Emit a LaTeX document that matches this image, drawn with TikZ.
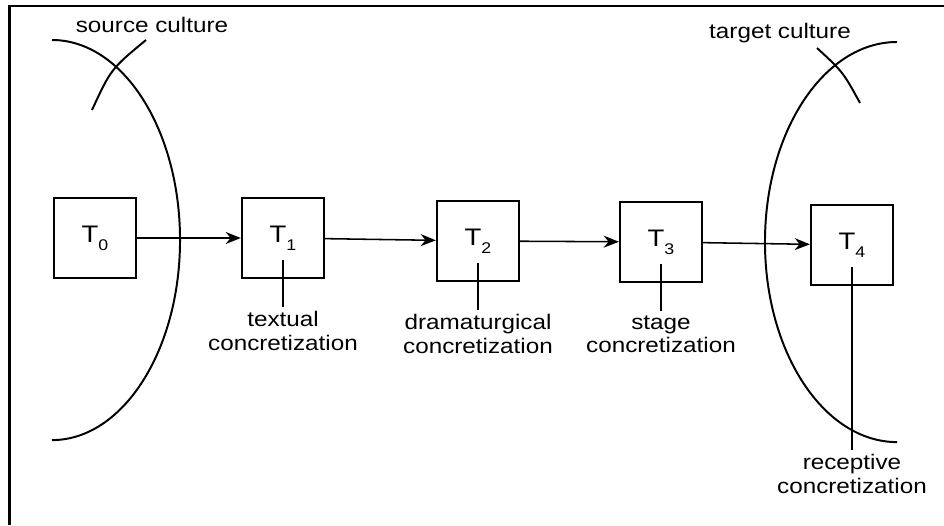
\documentclass[tikz,border=0pt]{standalone}
\usepackage{fontspec}
\setmainfont{Liberation Sans}[FakeStretch=1.15]
\usetikzlibrary{positioning}
\usetikzlibrary{arrows.meta}
\newcommand{\Tsub}[1]{{\fontsize{17}{19}\selectfont T}\raisebox{-0.7ex}{\fontsize{11}{12}\selectfont #1}}

\begin{document}
\begin{tikzpicture}[x=0.025cm, y=0.025cm,
    every node/.style={font=\fontsize{15}{17}\selectfont},
    box/.style={draw, line width=1.6pt, minimum width=2.05cm, minimum height=2cm, inner sep=0pt},
    lab/.style={align=center, inner sep=0.1cm},
    flow/.style={line width=1.1pt, -{Stealth[length=0.38cm, width=0.3cm]}},
    lead/.style={line width=1.1pt},
    culture/.style={line width=1.4pt}]

    \useasboundingbox (0,0) rectangle (944,525);
    % frame
    \draw[line width=2pt] (9.5,0) -- (9.5,519) -- (944,519);

    \node(T0)[box] at (95,287){\Tsub{0}};
    \node(T1)[box] at (283,287){\Tsub{1}};
    \node(T2)[box] at (478,284){\Tsub{2}};
    \node(T3)[box] at (661,283){\Tsub{3}};
    \node(T4)[box] at (852,280){\Tsub{4}};

    \node(L1)[lab, below=0.7cm of T1]{textual\\concretization};
    \node(L2)[lab, below=0.7cm of T2]{dramaturgical\\concretization};
    \node(L3)[lab, below=0.7cm of T3]{stage\\concretization};
    \node(L4)[lab, below=4.1cm of T4]{receptive\\concretization};

    \node(S)[inner sep=0pt] at (152,500){source culture};
    \node(G)[inner sep=0pt] at (780,492){target culture};

    \draw[flow] (T0) -- (T1);
    \draw[flow] (T1) -- (T2);
    \draw[flow] (T2) -- (T3);
    \draw[flow] (T3) -- (T4);

    \draw[lead] ([yshift=-0.55cm]T1.center) -- (L1);
    \draw[lead] ([yshift=-0.55cm]T2.center) -- (L2);
    \draw[lead] ([yshift=-0.55cm]T3.center) -- (L3);
    \draw[lead] ([yshift=-0.55cm]T4.center) -- (L4);

    % source and target culture
    \draw[culture] (52,485) arc[start angle=90, end angle=-90, x radius=3.2cm, y radius=5cm];
    \draw[culture] (92,415) .. controls (111,456) .. (146,485);
    \draw[culture] (897,483) arc[start angle=90, end angle=270, x radius=3.3cm, y radius=5cm];
    \draw[culture] (817,477) .. controls (843,453) .. (860,422);

\end{tikzpicture}
\end{document}
